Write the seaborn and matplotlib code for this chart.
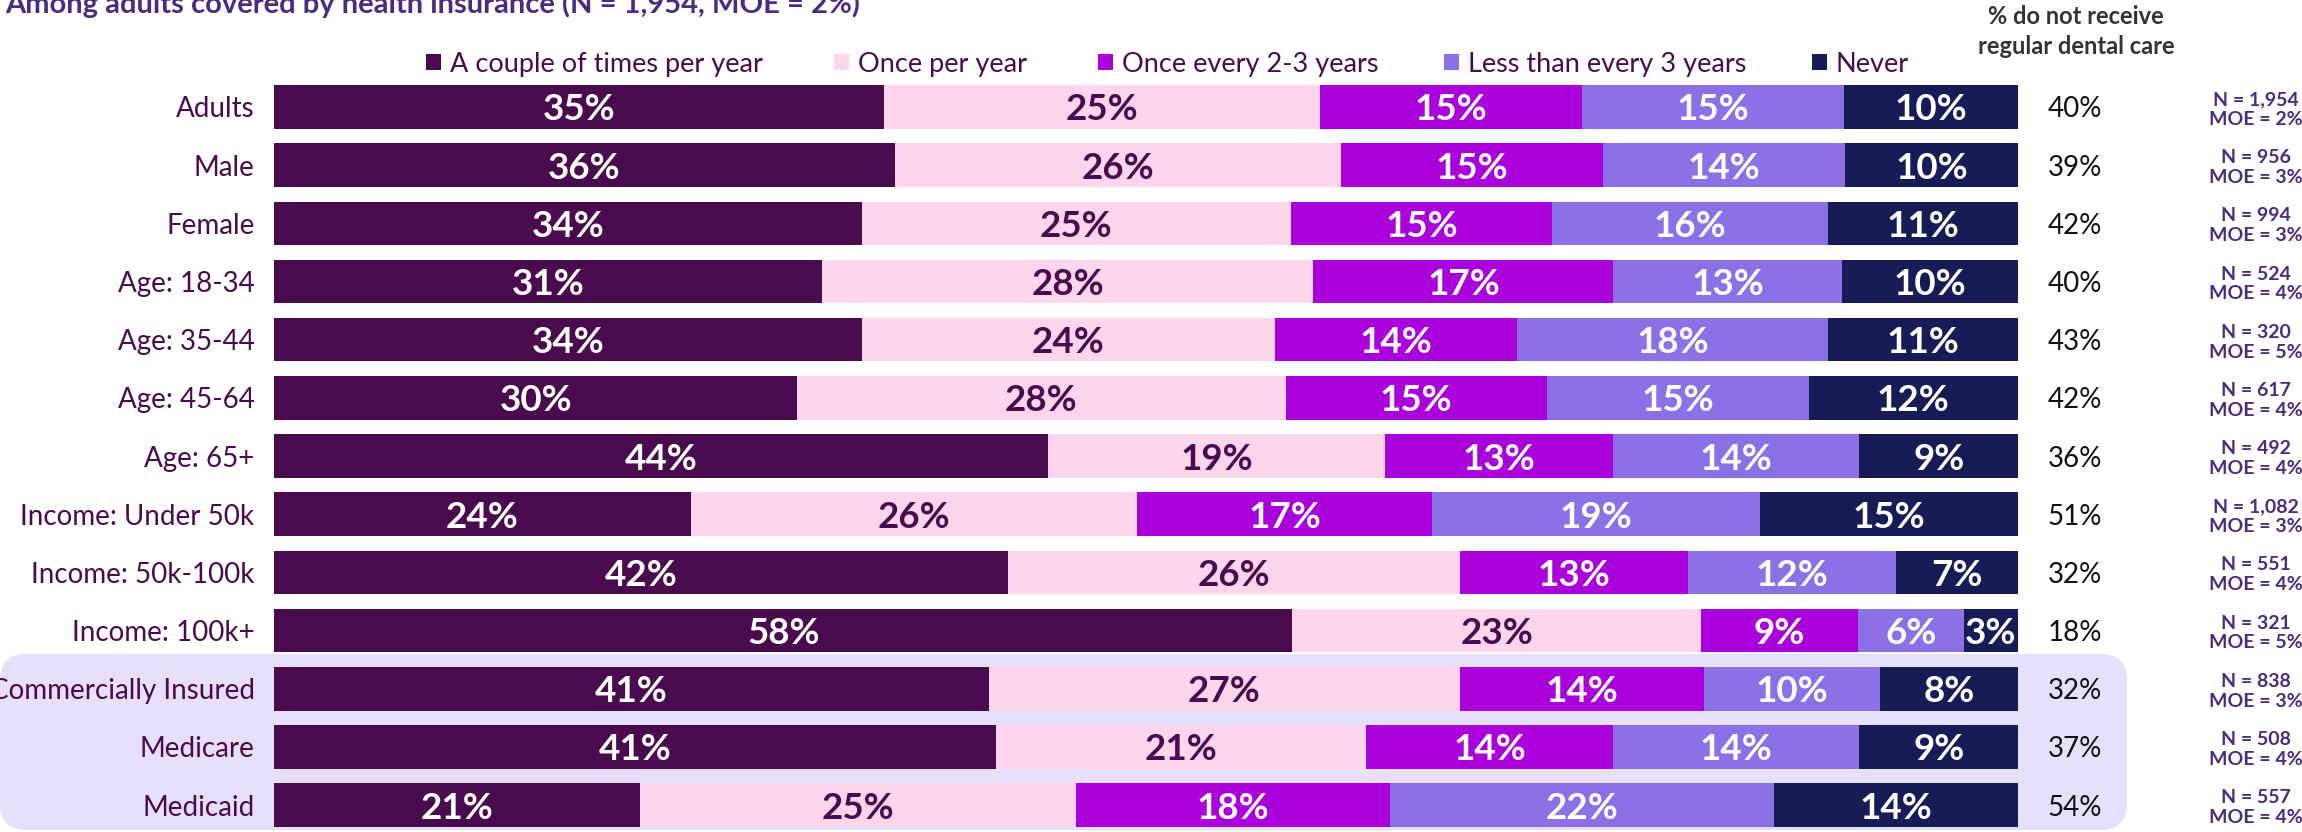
import numpy as np
import pandas as pd
import matplotlib
matplotlib.use("Agg")
import matplotlib.pyplot as plt
import seaborn as sns
from matplotlib.patches import FancyBboxPatch, Rectangle
from matplotlib.transforms import IdentityTransform, blended_transform_factory

# ---------------- data ----------------
categories = ["Adults", "Male", "Female", "Age: 18-34", "Age: 35-44", "Age: 45-64",
              "Age: 65+", "Income: Under 50k", "Income: 50k-100k", "Income: 100k+",
              "Commercially Insured", "Medicare", "Medicaid"]
series_names = ["A couple of times per year", "Once per year", "Once every 2-3 years",
                "Less than every 3 years", "Never"]
couple    = [35.0, 35.6, 33.7, 31.4, 33.7, 30.0, 44.4, 23.9, 42.1, 58.4, 41.0, 41.4, 21.0]
once_year = [25.0, 25.6, 24.6, 28.2, 23.7, 28.0, 19.3, 25.6, 25.9, 23.4, 27.0, 21.2, 25.0]
every_2_3 = [15.0, 15.0, 15.0, 17.2, 13.9, 15.0, 13.1, 16.9, 13.1, 9.0, 14.0, 14.2, 18.0]
less_3    = [15.0, 13.9, 15.8, 13.1, 17.8, 15.0, 14.1, 18.8, 11.9, 6.1, 10.1, 14.1, 22.0]
never     = [10.0, 9.9, 10.9, 10.1, 10.9, 12.0, 9.1, 14.8, 7.0, 3.1, 7.9, 9.1, 14.0]
no_regular = [40, 39, 42, 40, 43, 42, 36, 51, 32, 18, 32, 37, 54]
sample_n = ["1,954", "956", "994", "524", "320", "617", "492", "1,082", "551", "321", "838", "508", "557"]
moe = [2, 3, 3, 4, 5, 4, 4, 3, 4, 5, 3, 4, 4]
title = "Among adults covered by health insurance (N = 1,954, MOE = 2%)"
header = ["% do not receive", "regular dental care"]

# ---------------- style ----------------
colors = ["#4A0A4E", "#FED6EC", "#AA00DC", "#8C70E6", "#181C56"]
label_colors = ["white", "#4A0A4E", "white", "white", "white"]
dark_purple = "#4A0A4E"
title_purple = "#4B2A80"

sns.set_style("white")
plt.rcParams["font.family"] = ["Lato", "DejaVu Sans"]

W, H = 2302, 832
fig = plt.figure(figsize=(W / 100, H / 100), dpi=100)
fig.patch.set_facecolor("white")

row0, step = 107.0, 58.17
ax_left, ax_right = 274, 2018
ytop_px = row0 - 0.5 * step
ax = fig.add_axes([ax_left / W, 0, (ax_right - ax_left) / W, (H - ytop_px) / H])
ax.patch.set_alpha(0)

vals = np.array([couple, once_year, every_2_3, less_3, never]).T
cum = vals.cumsum(axis=1)
df = pd.DataFrame({"category": categories})
for j in range(4, -1, -1):
    df["cum"] = cum[:, j]
    sns.barplot(data=df, x="cum", y="category", order=categories, orient="h",
                color=colors[j], saturation=1, width=0.75, errorbar=None,
                linewidth=0, ax=ax)

ax.set_xlim(0, 100)
ax.set_ylim((H - row0) / step, -0.5)
ax.set_xlabel("")
ax.set_ylabel("")
ax.set_xticks([])
sns.despine(ax=ax, left=True, bottom=True)
ax.tick_params(axis="y", length=0, pad=14, labelsize=20, labelcolor=dark_purple)

# segment labels
for i in range(len(categories)):
    for j in range(5):
        mid = cum[i, j] - vals[i, j] / 2
        ax.text(mid, i, f"{vals[i, j]:.0f}%", ha="center", va="center_baseline",
                fontsize=26.5, fontweight="bold", color=label_colors[j])

# right-hand columns
tr = blended_transform_factory(fig.transFigure, ax.transData)
for i in range(len(categories)):
    ax.text(2075 / W, i, f"{no_regular[i]}%", transform=tr, ha="center",
            va="center_baseline", fontsize=20, color="#111111")
    ax.text(2256 / W, i + 2.5 / step, f"N = {sample_n[i]}\nMOE = {moe[i]}%",
            transform=tr, ha="center", va="center", fontsize=14,
            fontweight="bold", color=title_purple, linespacing=1.2)

# highlight box behind payer rows
box = FancyBboxPatch((0, 2), 2127, 176, boxstyle="round,pad=0,rounding_size=26",
                     transform=IdentityTransform(), facecolor="#E6E0FD",
                     edgecolor="none", zorder=-5)
fig.add_artist(box)

# legend
leg_x = [426, 834, 1098, 1444, 1812]
for j, name in enumerate(series_names):
    fig.add_artist(Rectangle((leg_x[j], H - 62 - 8), 15, 16, transform=IdentityTransform(),
                             facecolor=colors[j], edgecolor="none"))
    fig.text((leg_x[j] + 24) / W, 1 - 62 / H, name, ha="left", va="center_baseline",
             fontsize=19.5, color=dark_purple)

# headers
fig.text(2076 / W, 1 - 15 / H, header[0], ha="center", va="center_baseline",
         fontsize=17, fontweight="bold", color="#333333")
fig.text(2076 / W, 1 - 45 / H, header[1], ha="center", va="center_baseline",
         fontsize=17, fontweight="bold", color="#333333")

# title (partly cut off at top, as in the reference)
fig.text(5 / W, 1 - 13 / H, title, ha="left", va="baseline", fontsize=21,
         fontweight="bold", color=title_purple)

fig.savefig("out.png", dpi=100, facecolor="white")
